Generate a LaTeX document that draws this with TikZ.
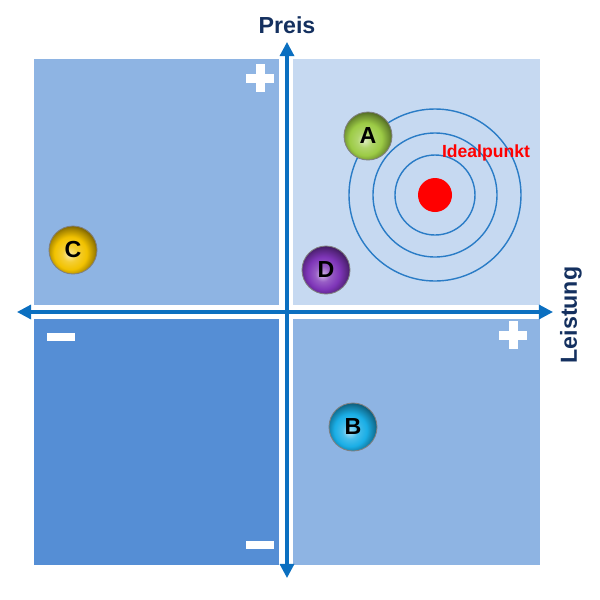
\documentclass[tikz,border=0pt]{standalone}
\usepackage{fontspec}
\setmainfont{Liberation Sans}
\usetikzlibrary{arrows.meta}
\definecolor{quadlight}{HTML}{C6D9F1}
\definecolor{quadmid}{HTML}{8EB4E3}
\definecolor{quaddark}{HTML}{558ED5}
\definecolor{axisblue}{HTML}{0B6FC0}
\definecolor{ringblue}{HTML}{2A7CC6}
\definecolor{labelnavy}{HTML}{14305F}
\definecolor{ballA}{HTML}{9CCB45}
\definecolor{ballB}{HTML}{1AAEE6}
\definecolor{ballC}{HTML}{F2C200}
\definecolor{ballD}{HTML}{7E35B8}
\colorlet{ballbase}{ballA}
\pgfdeclareradialshading[ballbase]{brightball}{\pgfpoint{-4bp}{-5bp}}{%
  color(0bp)=(ballbase!35!white); color(8bp)=(ballbase!80!white);
  color(17bp)=(ballbase); color(24bp)=(ballbase!70!black);
  color(28bp)=(ballbase!50!black); color(50bp)=(ballbase!50!black)}
\tikzset{
   axisline/.style={{Triangle[length=10pt,width=10pt]}-{Triangle[length=10pt,width=10pt]}, draw=axisblue, line width=2.2pt},
   axislabel/.style={font=\bfseries\fontsize{16.5}{18}\selectfont, text=labelnavy},
   ring/.style={draw=ringblue, line width=1pt},
   ballnode/.style={circle, minimum size=1.2cm, inner sep=0pt, /utils/exec={\colorlet{ballbase}{#1}}, shade, shading=brightball, draw=black!50, line width=0.6pt, font=\bfseries\fontsize{16.5}{16.5}\selectfont},
   plussign/.pic={\fill[white] (-14,-4.5) rectangle (14,4.5); \fill[white] (-4.5,-14) rectangle (4.5,14);},
   minussign/.pic={\fill[white] (-14,-4) rectangle (14,4);}
}
\begin{document}
\begin{tikzpicture}[x=0.025cm, y=-0.025cm]
\useasboundingbox (0,0) rectangle (600,600);
% quadrants
\foreach \xa/\ya/\xb/\yb/\col in {34/59/279/305/quadmid, 293/59/540/305/quadlight, 34/319/279/565/quaddark, 293/319/540/565/quadmid} {
    \fill[\col] (\xa,\ya) rectangle (\xb,\yb);
}
% signs
\pic at (260,78) {plussign};
\pic at (513,335) {plussign};
\pic at (61,337) {minussign};
\pic at (260,545) {minussign};
% axes
\coordinate (ytop) at (287,42);
\coordinate (ybot) at (287,578);
\coordinate (xleft) at (17,312);
\coordinate (xright) at (553,312);
\draw[axisline] (ybot) -- (ytop);
\draw[axisline] (xleft) -- (xright);
\node[axislabel] (preis) at (287,25) {Preis};
\node[axislabel, rotate=90] (leistung) at (571,315) {Leistung};
% ideal point
\foreach \r in {40,62,86} {
    \draw[ring] (435,195) circle (\r);
}
\fill[red] (435,195) circle (17);
\node[text=red, font=\bfseries\fontsize{12.5}{14}\selectfont] (ideal) at (486,153) {Idealpunkt};
% products
\node[ballnode=ballA] (A) at (368,136) {A};
\node[ballnode=ballB] (B) at (353,427) {B};
\node[ballnode=ballC] (C) at (73,250) {C};
\node[ballnode=ballD] (D) at (326,270) {D};
\end{tikzpicture}
\end{document}
